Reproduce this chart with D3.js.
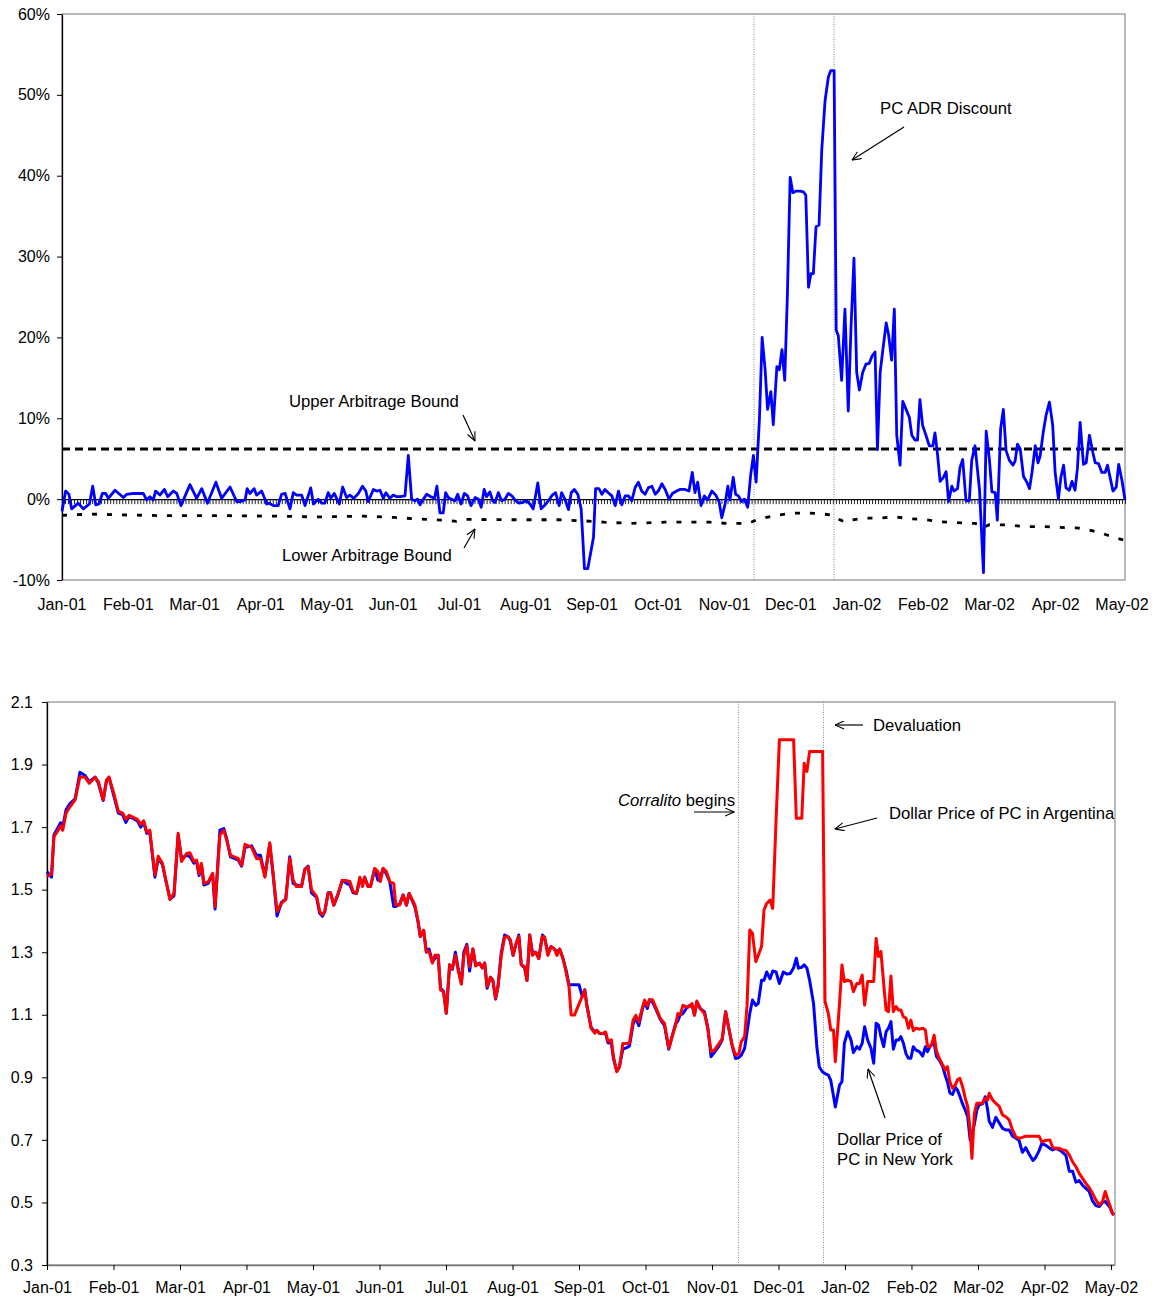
<!DOCTYPE html>
<html><head><meta charset="utf-8">
<script src="https://cdn.jsdelivr.net/npm/d3@7"></script>
<style>
body{margin:0;background:#fff}
svg{display:block}
text{font-family:"Liberation Sans",Arial,sans-serif;fill:#000}
</style>
</head><body>
<svg id="c" width="1158" height="1302"></svg>
<script>
// ---------------- DATA ----------------
const nDays = 354;              // trading days, Jan-01 .. May-02
const labelEvery = 22;          // one month label every 22 trading days
const monthLabels = ["Jan-01","Feb-01","Mar-01","Apr-01","May-01","Jun-01","Jul-01","Aug-01","Sep-01","Oct-01","Nov-01","Dec-01","Jan-02","Feb-02","Mar-02","Apr-02","May-02"];
const pctTicks = [-10,0,10,20,30,40,50,60];
const priceTicks = [0.3,0.5,0.7,0.9,1.1,1.3,1.5,1.7,1.9,2.1];

// PC ADR discount (%), by trading-day position
const discDay = [
0,1.2,2.3,3.2,5.4,7.1,9.1,10.2,11.2,12.3,
13.4,14.5,15.4,17.6,20.4,21.5,23.7,27,28.1,29.2,
30.3,31.1,32.5,34,35.1,37,38.1,39.5,42.5,44.7,
46.4,48.3,51.1,53,55.8,58,59.1,60.8,61.5,62.4,
63.8,64.6,66.3,68,68.8,70.2,71.8,72.9,74.1,75.7,
76.8,77.9,79.6,80.7,82.6,83.5,85.1,86.2,87.3,88.4,
89.3,90.4,92.1,93.2,94.5,95.6,96.9,98.4,99.8,100.9,
101.7,103.4,104.5,105.6,106.7,107.6,108.9,110,111.2,112.3,
113.9,115,116.1,117.2,118.1,118.9,120,121.1,122.5,123.7,
124.5,125.5,126.6,127.4,128.3,129.2,130.5,131.4,132.5,133.6,
134.7,135.8,137.2,138.3,139.2,140.2,141,142.1,143,143.8,
144.9,146,147.1,148.2,149.4,150.7,151.8,152.9,154.3,155.4,
156.5,158,159.1,160.2,161.5,162.8,163.9,165.1,165.9,167.1,
168.2,169.1,170.1,171.3,172.4,173.5,174.6,176.5,177.2,178.3,
179.3,180.3,181.4,182.6,183.7,184.8,185.9,187,188.1,189.2,
190.3,191.4,192.5,193.6,194.7,195.9,197,198,199.2,200.3,
201.6,202.7,204.1,205.2,206.9,208.2,209.3,210.2,211.1,212.2,
213.3,214.4,215.8,217.1,218.2,219.1,220.2,221.1,221.8,222.9,
223.7,224.6,225.7,226.6,227.7,228.7,229.6,230.5,231.6,232.5,
233.5,234.3,235.4,236.2,237.4,238.2,239.1,240,240.9,241.8,
242.7,243.8,245.1,246.2,247,247.9,248.7,249.5,250.4,251.4,
252.3,253.4,254.5,255.3,256.4,257.1,257.8,258.9,260,261.1,
262,263,263.9,264.8,265.9,267,268.1,269,270,270.8,
271.7,272.5,273.7,274.5,275.5,276.4,277.2,278.3,279.2,280.3,
281.4,282.2,283.3,284.1,284.9,285.8,286.9,288,289.2,289.9,
290.7,291.6,292.7,293.6,294.4,295.5,296.2,297.4,298.2,299.1,
300.2,301.3,302.1,303.2,304.7,306,306.9,308,308.8,309.9,
310.6,311.7,312.6,313.5,314.6,315.8,316.5,317.3,318.2,319.3,
320.4,321.3,322.1,323.2,324.1,324.8,325.9,326.8,327.9,329,
329.8,330.9,331.7,332.6,333.4,334.5,335.4,336.4,337.2,338.1,
339.2,340.1,341.2,342.3,343.1,344.2,345.3,346.4,347.2,348.1,
349,350.1,350.9,352,353];
const discPct = [
-1.5,1.0,0.6,-1.2,-0.5,-1.2,-0.6,1.6,-0.7,-0.6,
0.7,0.7,0.1,1.1,0.2,0.6,0.7,0.7,-0.1,0.3,
-0.1,1.0,0.5,1.2,0.3,1.0,0.7,-0.8,1.8,0.1,
1.3,-0.5,2.1,0.1,1.5,-0.3,-0.3,-0.1,1.3,0.7,
1.3,0.5,1.0,-0.6,-0.5,-0.8,-0.8,0.6,0.7,-1.2,
0.8,0.5,0.5,-0.8,1.4,-0.6,0,-0.5,-0.5,0.8,
0.1,0.7,-0.6,1.5,0.2,0.5,0.1,0.7,1.6,1.0,
-0.3,1.2,1.0,1.1,0.1,0.8,0.1,0.5,0.3,0.3,
0.4,5.4,0,-0.2,0,-0.7,0,0.6,0.3,0.1,
1.6,-1.7,-1.7,0.8,0.2,0,-0.2,0.6,-0.6,0.7,
0.4,-0.8,0.2,0,-1.0,1.2,0.3,0.9,-0.2,-0.4,
0.8,-0.2,0,0.7,0.4,-0.2,-0.5,-0.4,-0.2,-0.6,
-1.2,2.0,-1.2,-0.8,-0.2,0.5,0.8,-0.8,0.8,-0.1,
-1.3,0.8,1.2,0.6,-1.2,-8.6,-8.6,-4.7,1.3,1.3,
0.6,1.2,0.8,0.4,-0.8,1.0,-0.7,0.4,0.4,-0.2,
1.4,2.1,1.0,0.6,1.4,1.6,0.6,1.0,1.9,1.2,
0,0.7,1.0,1.2,1.2,1.0,3.3,0.8,2.1,-0.8,
0.4,-0.1,1.0,0.5,-0.3,-2.3,-0.6,1.6,-0.1,2.7,
0.6,0.4,-0.3,0,-1.0,3.0,5.4,2.1,9.9,20.0,
16.0,11.1,13.3,9.2,16.4,16.0,18.5,14.7,25.4,39.8,
37.9,38.1,38.1,38.0,37.6,26.2,27.9,27.9,33.7,33.9,
43.2,49.3,52.2,53.0,53.0,20.9,20.2,14.7,23.5,10.9,
21.1,29.8,15.7,13.5,15.7,16.7,16.8,17.7,18.2,6.1,
15.7,18.2,21.8,20.3,17.2,23.5,7.9,4.2,12.1,11.1,
10.1,7.9,7.3,7.3,12.3,9.1,7.9,6.6,6.6,8.2,
5.7,2.2,2.7,3.4,-0.3,1.6,1.0,1.3,3.9,4.9,
-0.2,-0.2,4.8,6.6,1.1,-9.1,8.4,4.8,0.9,0.8,
-2.6,8.7,11.1,6.0,4.8,4.2,4.7,6.8,6.2,2.8,
2.1,1.3,3.3,6.6,4.5,5.3,8.4,10.4,12.0,9.1,
3.3,0,2.7,4.2,1.4,1.1,2.2,1.1,3.8,9.5,
4.3,4.5,7.9,5.8,4.5,4.4,3.3,3.3,4.2,2.6,
1.0,1.5,4.3,2.3,-0.1];

// Arbitrage bounds (%)
const upperDay = [0,353];
const upperPct = [6.2,6.2];
const lowerDay = [0,10,20,35,55,70,85,100,110,118,127,131,134,150,165,174,180,189,200,215,221,228,231,236,242,247,252,256,258,260,262,266,272,276,281,287,292,297,303,305,306,308,314,320,326,331,337,342,346,350,353];
const lowerPct = [-2.0,-1.85,-1.95,-2.05,-2.05,-2.1,-2.2,-2.1,-2.25,-2.45,-2.6,-2.75,-2.5,-2.55,-2.55,-2.7,-2.85,-3.0,-2.85,-2.85,-3.0,-3.0,-2.5,-2.1,-1.75,-1.7,-1.8,-2.0,-2.5,-2.85,-2.6,-2.35,-2.35,-2.15,-2.4,-2.55,-2.8,-2.9,-3.0,-3.1,-3.5,-3.15,-3.2,-3.4,-3.4,-3.5,-3.55,-3.9,-4.3,-4.8,-5.1];

// Dollar prices of PC (Argentina = red, New York = blue)
const priceDay = [
0,1.5,2.3,3.7,4.5,5.2,6.3,7.6,9.3,10.9,
12.6,14,15.9,17,18.6,19.7,20.5,22.1,23.6,25,
26.1,27.2,29.9,31,32,33,34,35.7,36.8,38.2,
39.3,40.7,42,43.4,44.5,46.2,47.3,48.6,49.5,50.3,
51.1,51.9,53.3,54.8,55.6,57.2,58.5,59.4,60.7,63.2,
64.4,65.5,67.7,69.3,70.6,72.1,73.7,74.8,76.1,77.6,
79,80.3,81.4,82.5,84.2,85.3,86.4,87.5,89.2,90.2,
91.1,91.9,93,93.8,94.9,96.3,97.7,99.1,100.2,101.3,
102.4,103.5,104.4,105.1,106.2,107,108.4,109.5,110.3,111.2,
112.3,113.4,114.7,115.4,116.7,117.8,118.9,119.8,121.7,122.7,
123.5,124.6,125.5,126.4,127.5,128.3,129.4,130.2,131.2,132.1,
133.2,134.1,135.1,136,137.1,137.9,138.9,139.8,140.9,141.8,
143.1,144,144.8,145.6,146.7,147.5,148.4,149.2,150.3,151.4,
152.5,153.3,154.2,155,156.1,156.9,158,158.8,159.7,160.6,
161.7,162.7,163.9,164.6,165.7,166.8,167.9,168.7,169.6,170.7,
171.8,172.7,173.4,174.5,176,177.1,177.9,178.6,180,181.2,
181.9,182.8,183.7,184.8,185.6,186.7,187.4,188.5,189.4,190.5,
191.8,192.7,193.9,194.8,195.8,196.9,197.7,198.6,199.3,200.4,
201.8,202.9,204.3,205.7,206.8,207.9,208.7,209.5,210.4,211.5,
212.6,213.4,214.2,215,216.1,217.5,218.6,219.7,220.8,222.3,
223.4,224.5,225.6,226.7,227.8,228.9,229.7,230.8,231.6,232.5,
233.4,234.5,235.3,236.4,237.2,238.1,239.2,240.1,241.2,242.3,
243.6,244.8,245.9,247,247.9,248.6,249.7,250.5,251.4,252.3,
253.6,254.7,255.5,256.6,257.4,258.5,259.3,260.2,260.8,262.2,
263,263.8,264.9,266,266.8,267.9,268.8,269.7,270.5,271.5,
272.6,273.5,274.3,275.1,275.9,276.8,277.6,278.4,279.2,280,
280.9,281.7,282.5,283.3,284.2,285,285.8,286.6,287.5,288.6,
289.7,290.6,291.3,292.1,292.8,293.5,294.3,295.2,296.3,297.2,
297.9,298.7,299.6,300.5,301.2,302,302.9,303.8,304.6,305.4,
306,306.8,307.6,308.4,309.5,310.4,311.2,311.7,312.8,313.9,
315,316.1,317.2,318.3,319.4,320.5,321.6,322.7,323.8,324.9,
326.2,327.1,328.2,329.1,330.4,331.8,332.7,333.8,334.9,336,
337.1,338.2,339.3,340.4,341.5,342.6,343.7,344.8,345.9,347,
348.1,349.2,350.1,350.8,351.6,352.5,353];
const priceArg = [
1.542,1.55,1.669,1.69,1.704,1.69,1.744,1.765,1.787,1.861,
1.859,1.84,1.859,1.845,1.787,1.85,1.86,1.808,1.75,1.745,
1.725,1.738,1.725,1.709,1.72,1.685,1.69,1.547,1.607,1.584,
1.531,1.469,1.488,1.68,1.59,1.616,1.618,1.59,1.595,1.55,
1.584,1.52,1.525,1.552,1.446,1.675,1.69,1.66,1.61,1.60,
1.578,1.645,1.635,1.60,1.60,1.54,1.65,1.55,1.43,1.457,
1.468,1.60,1.532,1.51,1.51,1.563,1.573,1.50,1.478,1.43,
1.42,1.43,1.488,1.49,1.451,1.488,1.529,1.529,1.526,1.494,
1.488,1.54,1.51,1.54,1.51,1.51,1.568,1.557,1.526,1.568,
1.557,1.526,1.52,1.451,1.451,1.483,1.451,1.488,1.451,1.403,
1.35,1.37,1.302,1.302,1.265,1.29,1.29,1.179,1.173,1.105,
1.259,1.248,1.29,1.243,1.198,1.29,1.32,1.254,1.31,1.256,
1.265,1.25,1.265,1.19,1.22,1.21,1.153,1.19,1.29,1.348,
1.35,1.34,1.29,1.323,1.35,1.26,1.254,1.21,1.355,1.29,
1.30,1.28,1.35,1.348,1.29,1.318,1.31,1.29,1.31,1.28,
1.233,1.19,1.099,1.099,1.134,1.16,1.179,1.13,1.057,1.041,
1.05,1.041,1.04,1.045,1.014,1.02,0.966,0.918,0.934,1.008,
1.008,1.01,1.083,1.098,1.077,1.12,1.147,1.128,1.149,1.147,
1.115,1.088,1.072,0.993,1.03,1.064,1.104,1.10,1.13,1.125,
1.126,1.136,1.098,1.144,1.12,1.104,1.057,0.982,0.987,1.008,
1.024,1.11,1.056,1.002,0.971,0.976,1.014,1.03,1.13,1.371,
1.36,1.27,1.29,1.318,1.435,1.456,1.467,1.44,1.723,1.979,
1.979,1.979,1.979,1.979,1.728,1.728,1.728,1.904,1.878,1.942,
1.942,1.942,1.942,1.942,1.142,1.104,1.051,1.051,0.95,1.137,
1.259,1.206,1.211,1.206,1.174,1.2,1.2,1.227,1.131,1.206,
1.206,1.206,1.344,1.286,1.302,1.2,1.115,1.11,1.224,1.11,
1.126,1.115,1.115,1.094,1.089,1.057,1.083,1.049,1.057,1.054,
1.057,1.051,1.0,0.998,1.009,1.035,0.982,0.961,0.94,0.924,
0.934,0.886,0.865,0.876,0.892,0.897,0.87,0.833,0.806,0.732,
0.641,0.785,0.817,0.817,0.817,0.833,0.828,0.849,0.828,0.817,
0.808,0.78,0.774,0.764,0.732,0.71,0.705,0.708,0.712,0.712,
0.712,0.712,0.712,0.694,0.698,0.70,0.676,0.673,0.673,0.668,
0.666,0.652,0.63,0.614,0.593,0.577,0.561,0.548,0.529,0.508,
0.492,0.503,0.535,0.513,0.492,0.465,0.46];
const priceNY = [
1.557,1.54,1.675,1.70,1.714,1.70,1.755,1.775,1.79,1.875,
1.865,1.845,1.86,1.84,1.785,1.85,1.86,1.80,1.745,1.74,
1.715,1.735,1.72,1.70,1.715,1.68,1.685,1.54,1.60,1.58,
1.53,1.47,1.48,1.675,1.60,1.61,1.605,1.585,1.59,1.545,
1.58,1.515,1.52,1.55,1.438,1.69,1.695,1.665,1.605,1.595,
1.575,1.635,1.64,1.61,1.61,1.545,1.645,1.55,1.416,1.46,
1.47,1.605,1.52,1.515,1.51,1.565,1.575,1.49,1.475,1.425,
1.415,1.43,1.49,1.49,1.45,1.485,1.53,1.52,1.515,1.49,
1.488,1.53,1.52,1.54,1.51,1.51,1.565,1.53,1.54,1.568,
1.55,1.526,1.446,1.446,1.455,1.483,1.45,1.488,1.445,1.40,
1.35,1.37,1.30,1.31,1.27,1.28,1.29,1.185,1.175,1.105,
1.26,1.245,1.30,1.25,1.20,1.30,1.325,1.24,1.31,1.26,
1.265,1.25,1.265,1.185,1.22,1.21,1.15,1.19,1.30,1.355,
1.35,1.335,1.29,1.32,1.355,1.26,1.25,1.21,1.355,1.30,
1.30,1.28,1.355,1.348,1.30,1.318,1.31,1.30,1.31,1.28,
1.24,1.196,1.196,1.196,1.196,1.158,1.18,1.13,1.06,1.045,
1.05,1.04,1.04,1.04,1.01,1.01,0.96,0.92,0.935,0.99,
0.995,1.0,1.07,1.09,1.065,1.115,1.14,1.12,1.145,1.14,
1.11,1.085,1.065,0.99,1.03,1.07,1.08,1.10,1.104,1.12,
1.13,1.13,1.10,1.14,1.12,1.11,1.06,0.966,0.98,1.00,
1.02,1.11,1.055,1.00,0.96,0.964,0.971,0.993,1.045,1.104,
1.147,1.13,1.136,1.21,1.21,1.237,1.215,1.24,1.237,1.20,
1.237,1.23,1.232,1.25,1.281,1.249,1.252,1.26,1.249,1.21,
1.136,0.997,0.933,0.917,0.912,0.907,0.89,0.84,0.805,0.875,
0.886,1.009,1.046,1.019,0.979,0.998,0.99,1.009,1.062,1.019,
0.993,0.945,1.073,1.067,1.03,0.998,1.046,1.057,1.078,0.99,
1.019,1.019,1.03,1.01,0.975,0.961,0.961,0.998,0.987,0.982,
0.968,0.998,0.982,0.998,1.005,1.009,0.966,0.955,0.935,0.905,
0.885,0.85,0.845,0.868,0.86,0.84,0.815,0.795,0.774,0.70,
0.72,0.75,0.795,0.812,0.815,0.838,0.796,0.76,0.74,0.772,
0.755,0.737,0.732,0.732,0.712,0.706,0.698,0.66,0.675,0.655,
0.634,0.644,0.665,0.688,0.683,0.673,0.668,0.673,0.668,0.66,
0.65,0.60,0.60,0.565,0.57,0.555,0.545,0.535,0.505,0.49,
0.487,0.50,0.503,0.495,0.485,0.465,0.46];

// Event markers (trading-day positions): Corralito begins, Devaluation
const eventDayTop = [229.8, 256.4];
const eventDayBottom = [228.8, 256.9];

// ---------------- DRAW ----------------
const svg = d3.select('#c');
const FONT = '"Liberation Sans",Arial,sans-serif';

const defs = svg.append('defs');
defs.append('marker').attr('id','ah').attr('viewBox','0 0 10 10')
  .attr('refX',10).attr('refY',5).attr('markerWidth',10).attr('markerHeight',9)
  .attr('markerUnits','userSpaceOnUse').attr('orient','auto')
  .append('path').attr('d','M0,0.5 L10,5 L0,9.5').attr('fill','none')
  .attr('stroke','#000').attr('stroke-width',1.2);

const labelDays = d3.range(0, nDays, labelEvery).slice(0, monthLabels.length);

function toPts(days, vals){ return days.map((d,i)=>({d, v: vals[i]})); }

// ===== TOP PANEL =====
const T = {l:62, r:1125, t:14, b:580};
const xT = d3.scaleLinear().domain([0, nDays-1]).range([T.l, T.r]);
const yT = d3.scaleLinear().domain([-10, 60]).range([T.b, T.t]);
const gT = svg.append('g');

gT.append('rect').attr('x',T.l).attr('y',T.t).attr('width',T.r-T.l).attr('height',T.b-T.t)
  .attr('fill','none').attr('stroke','#8c8c8c').attr('stroke-width',1.2);

eventDayTop.forEach(d=>{
  gT.append('line').attr('x1',xT(d)).attr('x2',xT(d)).attr('y1',T.t).attr('y2',T.b)
    .attr('stroke','#888').attr('stroke-width',1).attr('stroke-dasharray','1,1.5');
});

// category axis crossing at 0% with a tick for every trading day
gT.append('g').attr('transform',`translate(0,${yT(0)})`)
  .call(d3.axisBottom(xT).tickValues(d3.range(nDays)).tickSize(5).tickSizeOuter(0).tickFormat(''))
  .call(g=>{ g.select('.domain').attr('stroke','#000').attr('stroke-width',1.4);
             g.selectAll('.tick line').attr('stroke','#222').attr('stroke-width',1); });

// left axis
gT.append('g').attr('transform',`translate(${T.l},0)`)
  .call(d3.axisLeft(yT).tickValues(pctTicks).tickSize(5).tickSizeOuter(0).tickPadding(7).tickFormat(d=>d+'%'))
  .attr('font-size',16).attr('font-family',FONT)
  .call(g=>{ g.select('.domain').attr('stroke','#000').attr('stroke-width',1.3);
             g.selectAll('.tick line').attr('stroke','#000');
             g.selectAll('text').attr('fill','#000'); });

// month labels
gT.append('g').selectAll('text').data(labelDays).join('text')
  .attr('x',d=>xT(d)).attr('y',604).attr('dy','0.35em').attr('text-anchor','middle')
  .attr('font-size',16).text((d,i)=>monthLabels[i]);

// bounds
const lineT = d3.line().x(p=>xT(p.d)).y(p=>yT(p.v));
gT.append('path').attr('d',lineT(toPts(upperDay,upperPct))).attr('fill','none')
  .attr('stroke','#000').attr('stroke-width',3).attr('stroke-dasharray','8,5');
gT.append('path').attr('d',lineT(toPts(lowerDay,lowerPct))).attr('fill','none')
  .attr('stroke','#000').attr('stroke-width',2.8).attr('stroke-dasharray','5,10');

// discount
gT.append('path').attr('d',lineT(toPts(discDay,discPct))).attr('fill','none')
  .attr('stroke','#0000ff').attr('stroke-width',2.8).attr('stroke-linejoin','round');

// ===== BOTTOM PANEL =====
const B = {l:47, r:1114, t:702, b:1265};
const xB = d3.scaleLinear().domain([0, nDays-1]).range([B.l, B.r]);
const yB = d3.scaleLinear().domain([0.3, 2.1]).range([B.b, B.t]);
const gB = svg.append('g');

gB.append('rect').attr('x',B.l).attr('y',B.t).attr('width',B.r-B.l+1).attr('height',B.b-B.t)
  .attr('fill','none').attr('stroke','#8c8c8c').attr('stroke-width',1.2);

eventDayBottom.forEach(d=>{
  gB.append('line').attr('x1',xB(d)).attr('x2',xB(d)).attr('y1',B.t).attr('y2',B.b)
    .attr('stroke','#888').attr('stroke-width',1).attr('stroke-dasharray','1,1.5');
});

gB.append('g').attr('transform',`translate(${B.l},0)`)
  .call(d3.axisLeft(yB).tickValues(priceTicks).tickSize(5).tickSizeOuter(0).tickPadding(9).tickFormat(d3.format('.1f')))
  .attr('font-size',16).attr('font-family',FONT)
  .call(g=>{ g.select('.domain').attr('stroke','#000').attr('stroke-width',1.3);
             g.selectAll('.tick line').attr('stroke','#000');
             g.selectAll('text').attr('fill','#000'); });

gB.append('g').attr('transform',`translate(0,${B.b})`)
  .call(d3.axisBottom(xB).tickValues(labelDays).tickSize(5).tickSizeOuter(0).tickPadding(12).tickFormat((d,i)=>monthLabels[i]))
  .attr('font-size',16).attr('font-family',FONT)
  .call(g=>{ g.select('.domain').attr('stroke','#777').attr('stroke-width',1.3);
             g.selectAll('.tick line').attr('stroke','#000');
             g.selectAll('text').attr('fill','#000'); });

const lineB = d3.line().x(p=>xB(p.d)).y(p=>yB(p.v));
gB.append('path').attr('d',lineB(toPts(priceDay,priceNY))).attr('fill','none')
  .attr('stroke','#0000ff').attr('stroke-width',3).attr('stroke-linejoin','round');
gB.append('path').attr('d',lineB(toPts(priceDay,priceArg))).attr('fill','none')
  .attr('stroke','#ff0000').attr('stroke-width',3).attr('stroke-linejoin','round');

// ===== ANNOTATIONS =====
function label(x, y, txt, opts={}){
  const t = svg.append('text').attr('x',x).attr('y',y).attr('dy','0.35em')
    .attr('font-size',16.7).attr('text-anchor',opts.anchor||'start').text(txt);
  if (opts.italic) t.attr('font-style','italic');
  return t;
}
function arrow(x1,y1,x2,y2){
  svg.append('line').attr('x1',x1).attr('y1',y1).attr('x2',x2).attr('y2',y2)
    .attr('stroke','#000').attr('stroke-width',1.2).attr('marker-end','url(#ah)');
}
label(880, 108, 'PC ADR Discount');            arrow(904,127, 852,160);
label(289, 401, 'Upper Arbitrage Bound');      arrow(463,415, 475,441);
label(282, 555, 'Lower Arbitrage Bound');      arrow(464,548, 475,529);

label(873, 725, 'Devaluation');                arrow(863,725, 835,725);
label(889, 813, 'Dollar Price of PC in Argentina'); arrow(877,818, 835,829);
label(618, 800, 'Corralito', {italic:true});
label(735, 800, 'begins', {anchor:'end'});     arrow(694,812, 734,812);
label(837, 1139, 'Dollar Price of');
label(837, 1159, 'PC in New York');            arrow(885,1118, 868,1069);
</script>
</body></html>
